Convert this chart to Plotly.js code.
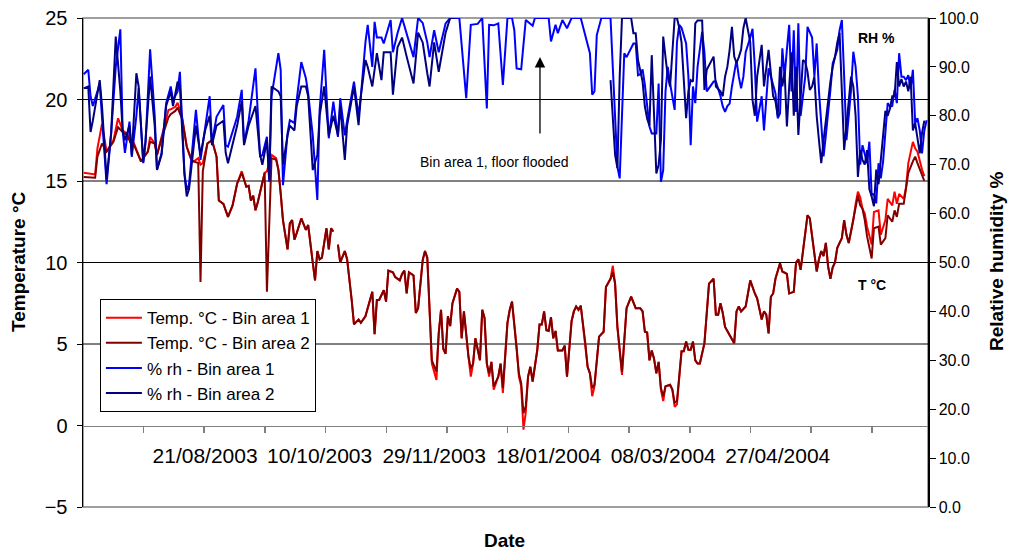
<!DOCTYPE html>
<html>
<head>
<meta charset="utf-8">
<script src="https://cdn.plot.ly/plotly-3.0.1.min.js"></script>
<style>
html,body{margin:0;padding:0;background:#fff;}
#chart{width:1010px;height:552px;}
</style>
</head>
<body>
<div id="chart"></div>
<script>
// ---- DATA ----
// Days counted from the first reading (29/06/2003)
const startDate = '2003-06-29';

const tempDay = [0,5,6,8,10,13,15,17,19,21,22,25,28,29,31,32,34,37,38,40,41,43,45,47,48,50,51,52,54,56,58,59,61,63,65,67,69,71,72,73,74,75,76,78,79,80,82,84,85,86,87,89,90,91,92,93,95,97,98,100,101,102,103,104,106,107,108,109,110,111,112,114,115,117,118,120,121,123,124,126,127,128,129,131,132,133,135,136,138,139,140,141,142,144,145,146,148,149,150,151,152,154,155,156,157,158,159,160,161,163,164,165,166,168,169,170,171,173,174,175,176,177,178,179,181,182,183,185,186,187,189,190,191,192,193,194,195,196,198,199,200,201,202,203,204,205,206,207,209,210,211,213,214,215,216,217,219,220,221,222,223,224,225,227,228,230,231,232,233,235,236,237,239,241,242,243,244,245,246,247,248,249,250,251,252,253,254,256,257,258,259,260,261,262,263,264,265,266,267,268,269,271,272,273,275,276,277,278,279,280,281,282,284,285,286,287,289,290,291,293,294,296,297,298,299,300,301,302,304,305,307,308,310,311,312,313,315,316,317,318,320,321,322,323,324,325,326,327,328,329,331,332,333,334,336,337,338,339,340,341,342,344,345,347,348,350,351,353,354,355,356,358,359,360,362,363,364,366,367];

const tempArea1 = [15.5,15.4,17,18.5,16.8,17.5,18.85,18.1,17.9,17.2,17.3,16.2,16.8,17.7,17.3,16.6,17.7,19.35,19.4,19.55,19.8,18.9,17.1,16.3,16.2,16.4,16.0,16.1,17.3,17.5,16.5,13.8,13.6,12.8,13.5,14.85,15.6,14.65,14.7,13.8,14.1,13.2,13.7,14.85,15.5,15.6,16.6,16.4,15.7,14.25,12.6,10.8,12.4,12.6,11.4,11.8,12.7,12.0,12.3,10.0,8.9,10.7,10.2,10.3,12.1,10.8,12.1,11.9,null,11.1,10.0,10.7,10.2,7.7,6.2,6.5,6.3,6.7,7.2,8.2,5.6,7.7,7.7,8.3,7.6,9.5,9.4,9.1,8.9,9.3,9.5,8.1,9.4,9.2,6.9,7.2,10.15,10.7,10.3,6.9,3.8,2.8,5.65,7.1,4.7,4.4,6.7,6.1,7.5,8.4,8.2,5.35,7.0,4.2,3.0,3.8,5.35,4.0,7.1,6.6,3.8,3.0,3.9,2.2,3.0,3.8,2.0,6.3,7.1,7.6,4.85,3.0,2.4,-0.25,0.8,3.0,3.6,2.7,4.6,6.2,6.2,7.0,5.85,5.8,6.65,5.35,5.8,4.6,4.6,4.9,3.0,6.4,7.0,7.3,7.1,7.35,5.05,3.6,3.2,1.8,2.4,3.8,5.45,5.75,8.5,9.0,9.8,8.7,6.05,3.1,5.45,7.2,7.9,7.2,7.2,7.2,7.0,5.75,5.7,4.0,4.6,4.1,3.2,3.9,2.2,1.5,2.4,2.5,2.2,1.15,1.3,3.0,4.55,4.55,5.15,4.65,4.65,5.15,4.0,3.8,3.8,5.05,7.1,8.7,9.0,6.8,6.8,7.5,6.9,6.05,5.8,5.55,5.05,7.0,7.3,7.0,7.3,8.1,8.9,8.1,7.8,6.5,7.0,6.8,5.65,7.9,8.1,9.0,9.95,9.45,9.3,8.1,8.2,10.0,10.2,9.55,11.9,12.9,12.7,11.7,9.45,10.2,10.7,10.4,11.2,9.75,9.0,9.7,10.0,10.9,11.5,12.6,11.7,11.2,12.6,13.6,14.35,14.0,13.3,13.0,12.2,11.1,13.1,13.2,11.7,12.6,13.9,13.5,14.35,13.6,14.2,13.9,14.6,16.1,17.4,17.0,16.8,15.7,15.3];

const tempArea2 = [15.25,15.2,16.5,17.3,16.8,17.4,18.3,18.0,17.8,17.2,17.2,16.2,16.8,17.4,17.3,16.6,17.6,18.9,19.1,19.3,19.5,18.8,17.1,16.3,16.2,16.1,8.8,15.6,17.3,17.5,16.5,13.8,13.6,12.8,13.5,14.85,15.5,14.65,14.7,13.8,14.1,13.2,13.7,14.85,15.5,8.2,16.4,16.3,15.7,14.25,12.6,10.8,12.4,12.6,11.4,11.8,12.7,12.0,12.3,10.0,8.9,10.7,10.2,10.3,12.1,10.8,12.1,11.9,null,11.1,10.0,10.7,10.2,7.7,6.2,6.5,6.3,6.7,7.2,8.2,5.6,7.7,7.7,8.3,7.6,9.5,9.4,9.1,8.9,9.3,9.5,8.1,9.4,9.2,6.9,7.2,10.15,10.7,10.3,6.9,4.0,3.3,5.65,7.1,4.7,4.4,6.7,6.1,7.5,8.4,8.2,5.35,7.0,4.2,3.5,3.8,5.35,4.0,7.1,6.6,3.8,3.2,3.9,2.4,3.0,3.8,2.3,6.3,7.1,7.6,4.85,3.2,2.6,0.75,1.2,3.0,3.6,2.7,4.6,6.2,6.2,7.0,5.85,5.8,6.65,5.35,5.8,4.6,4.6,4.9,3.0,6.4,7.0,7.3,7.1,7.35,5.05,3.6,3.2,2.3,2.5,3.8,5.45,5.75,8.5,9.0,9.4,8.7,6.05,3.3,5.45,7.2,7.9,7.2,7.2,7.2,7.0,5.75,5.7,4.0,4.6,4.1,3.2,3.9,2.3,1.8,2.4,2.5,2.2,1.4,1.5,3.0,4.55,4.55,5.15,4.65,4.65,5.15,4.0,3.8,3.8,5.05,7.1,8.7,9.0,6.8,6.8,7.5,6.9,6.05,5.8,5.55,5.05,7.0,7.3,7.0,7.3,8.1,8.9,8.1,7.8,6.5,7.0,6.8,5.65,7.9,8.1,9.0,9.95,9.45,9.3,8.1,8.2,10.0,10.2,9.55,11.9,12.9,12.7,11.7,9.45,10.2,10.7,10.4,11.2,9.75,9.0,9.7,10.0,10.9,11.5,12.6,11.7,11.2,12.6,13.2,14.1,13.5,13.3,12.6,11.6,10.25,12.1,12.2,11.1,11.5,12.9,12.5,13.2,12.8,13.6,13.6,14.45,15.5,16.2,16.5,16.1,15.3,15.0];

const rhDay = [0,2,3,4,7,8,10,12,14,16,17,18,20,21,23,24,26,27,29,31,32,34,36,38,39,41,42,44,45,46,49,51,53,55,56,58,61,62,63,67,69,70,72,75,77,78,80,81,82,85,86,87,89,90,92,93,95,97,98,100,102,103,105,107,109,111,112,114,115,118,120,121,123,124,126,127,128,130,131,134,135,137,139,141,144,146,148,150,151,153,155,158,160,162,164,167,169,172,174,176,177,179,181,183,185,187,188,189,191,193,196,197,203,204,206,207,209,211,213,217,219,220,221,222,223,224,226,230,232,233,234,235,236,237,238,239,240,241,242,243,244,245,246,247,248,250,251,252,253,254,255,256,258,259,260,261,263,264,265,266,267,268,270,271,272,275,276,278,279,280,281,282,283,284,285,286,287,288,289,291,292,293,294,296,297,299,301,302,303,304,305,306,307,308,309,310,311,312,313,314,315,316,317,318,319,320,321,322,323,324,325,326,327,328,329,330,331,332,333,334,335,336,337,338,339,340,341,342,343,344,345,346,347,348,349,350,351,352,353,354,355,356,357,358,359,360,361,362,363,364,365,366,367,368];

const rhArea1 = [88.5,89.4,84,82,86.5,80,66,76.5,90,97.7,77,72.4,78.8,71.6,80,85.6,70.3,74.4,93.6,80,68.9,72.4,82.6,86,83.2,85,89,68.2,64.8,66,81.2,71,77.8,84,74.4,79.8,82.2,74,73.7,79.8,85.3,74.4,79,89.7,71.6,72,75.7,66.5,84,92.8,89.4,65.8,76.4,79.1,78.5,83.2,91,87.7,84.6,76,62.8,81.2,93.5,75.4,82.9,75.7,83.6,76,79,87,80,84,95,98.6,90,99.2,96,96,94.8,99.6,93,96.9,100,97,92,100,99,95,92,97.5,93,98.9,100,100,100,83.6,98.6,98.8,100,81.5,98.6,98.5,98.9,86.3,100,100,97.5,89.7,89.5,99.6,98.4,100,100,95.2,98.6,96.9,99.6,97.9,100,100,96.5,95,92.8,84.3,85,96.5,100,100,81.2,69.6,67.2,80,92.8,92,93,94,94.8,94.8,88.3,88.5,89.5,86.3,82,77.8,76.4,76.4,86.6,66.5,68.9,85,90,86.6,81.2,95,98.6,98,94.8,88,74,86,82.6,90,97.2,93,85,87,87,84,81.9,80.8,82,82.5,86,89,91.4,88,85.6,88,93,96,97.8,90,78.8,84,77,89.7,86,84.6,79.5,80.5,93.8,88,93.6,98.6,85,97.5,80.8,98.9,80,84,88,98.2,97,96,88,94.8,85,77.8,71.7,76,80,85.3,90.7,92,93.5,97.5,99.6,88,75,80,85.3,93.1,90,84,70,74,72,70.3,74.7,63.8,64,62.1,70.3,67.2,70.7,77,82.6,81.9,82,85.3,82.6,92.8,88,88,87.3,88.3,85.5,89.4,78.5,79.5,77,72.3,77,79.1];

const rhArea2 = [85.6,86,76.7,79,87.3,82,67,76.5,96.2,85,77,75,78,72,88.7,86,70.5,75,88,78,69,72,82,85,82,87,86,68,63.5,65,78,72,77,80,74,78,79,72.4,70.3,78,83,74,78,82,72,70,75,67,86,85,84,70,76,78,77,82,86,86,84,68.9,72,80,86,76,80,76,82,71,78,86,78.1,84,91.4,90,86,90,92.8,87.3,93,93,84.3,94,96,92.1,86.6,97,95,88.7,86,95,89,97,100,100,null,null,null,null,null,null,null,null,null,null,null,null,null,null,null,null,null,null,null,null,null,null,null,null,null,null,null,null,null,null,null,null,null,87.3,72,69.3,88,100,100,100,100,100,96.9,96.9,91.4,89,87,81.9,79.4,78,92.4,68.2,70,75,96.2,92,88,86,100,100,98,95,79.5,85,87.3,87,98.9,99.5,99.5,85.3,89.4,92.1,86,85,84,88,90,93.5,98.2,92.1,90.8,92,93.5,97.9,100,95,83.2,80,88,94.5,86,93.5,84,83,80,90,86,89,77.8,86,93,80,90,76.1,85,91.4,91,89,85.3,86,88,80,75,70.3,75,79,84,87,90,92,95,97,85,73,78,83,88,86,80,67.5,73,71,70,73,65,63.5,61.5,69,66,71,76,81,80,81.5,84,84,91,86,87.5,86,87,85,88,77,78.5,75,72.3,76.5,79];

const xTickLabels = ['21/08/2003','10/10/2003','29/11/2003','18/01/2004','08/03/2004','27/04/2004'];
const tempGridValues = [5, 10, 15, 20];

// ---- HELPERS ----
const DAY = 864e5;
const t0 = Date.parse(startDate + 'T00:00:00Z');
function dayToDate(d) {
  return new Date(t0 + d * DAY).toISOString().replace('T', ' ').slice(0, 19);
}
function labelToDate(s) {
  const p = s.split('/');
  return p[2] + '-' + p[1] + '-' + p[0];
}

const FONT = 'Liberation Sans, Arial, sans-serif';
const tempX = tempDay.map(dayToDate);
const rhX = rhDay.map(dayToDate);

const traces = [
  {x: tempX, y: tempArea1, name: 'Temp. °C - Bin area 1', type: 'scatter', mode: 'lines',
   line: {color: '#FF0000', width: 2}, yaxis: 'y'},
  {x: tempX, y: tempArea2, name: 'Temp. °C - Bin area 2', type: 'scatter', mode: 'lines',
   line: {color: '#800000', width: 2}, yaxis: 'y'},
  {x: rhX, y: rhArea1, name: '% rh - Bin area 1', type: 'scatter', mode: 'lines',
   line: {color: '#0000FF', width: 2}, yaxis: 'y2'},
  {x: rhX, y: rhArea2, name: '% rh - Bin area 2', type: 'scatter', mode: 'lines',
   line: {color: '#000080', width: 2}, yaxis: 'y2'}
];

const yMin = -5, yMax = 25;
const shapes = [
  {type: 'rect', xref: 'paper', yref: 'paper', x0: 0, x1: 1, y0: 0, y1: 1,
   line: {color: '#808080', width: 1.5}, layer: 'below'}
].concat(tempGridValues.map(v => ({
  type: 'line', xref: 'paper', yref: 'y', x0: 0, x1: 1, y0: v, y1: v,
  line: {color: '#000000', width: 1}, layer: 'below'
})));

function note(text, x, y, size, extra) {
  return Object.assign({text: text, xref: 'paper', yref: 'paper', x: x, y: y,
    xanchor: 'center', yanchor: 'middle', showarrow: false,
    font: {family: FONT, size: size, color: '#000'}}, extra || {});
}

const layout = {
  width: 1010, height: 552,
  margin: {l: 83, r: 82, t: 18, b: 45, pad: 0},
  paper_bgcolor: '#ffffff', plot_bgcolor: '#ffffff',
  font: {family: FONT, color: '#000'},
  showlegend: true,
  legend: {x: 0.02, y: 0.425, xanchor: 'left', yanchor: 'top',
    bgcolor: '#ffffff', bordercolor: '#000000', borderwidth: 1, itemwidth: 36,
    font: {family: FONT, size: 17, color: '#000'}, tracegroupgap: 0},
  xaxis: {
    type: 'date',
    range: [dayToDate(-0.3), dayToDate(368.6)],
    anchor: 'free', position: (0 - yMin) / (yMax - yMin),
    showline: true, linecolor: '#808080', linewidth: 1.5,
    showgrid: false, zeroline: false,
    tickmode: 'array', tickvals: xTickLabels.map(labelToDate), ticktext: xTickLabels,
    ticks: '', ticklabelstandoff: 11,
    tickfont: {family: FONT, size: 21, color: '#000'},
    minor: {tickmode: 'linear', tick0: dayToDate(-0.4), dtick: 26.5 * DAY,
      ticks: 'outside', ticklen: 6, tickcolor: '#808080', tickwidth: 1.5, showgrid: false}
  },
  yaxis: {
    range: [yMin, yMax], dtick: 5, tick0: 0,
    showgrid: false, zeroline: false,
    showline: true, linecolor: '#000', linewidth: 1.5,
    ticks: 'outside', ticklen: 5, tickcolor: '#000', ticklabelstandoff: 5,
    tickfont: {family: FONT, size: 20, color: '#000'}
  },
  yaxis2: {
    overlaying: 'y', side: 'right', range: [0, 100], dtick: 10, tick0: 0,
    tickformat: '.1f', showgrid: false, zeroline: false,
    showline: true, linecolor: '#000', linewidth: 1.5,
    ticks: 'outside', ticklen: 6, tickcolor: '#000',
    tickfont: {family: FONT, size: 16, color: '#000'}
  },
  shapes: shapes,
  annotations: [
    note('<b>Date</b>', 0.4994, -0.0695, 19),
    note('<b>Temperature °C</b>', -0.0769, 0.501, 19, {textangle: -90}),
    note('<b>Relative humidity %</b>', 1.0805, 0.503, 19, {textangle: -90}),
    note('Bin area 1, floor flooded', 0.4864, 0.7055, 14),
    {text: '', xref: 'paper', yref: 'paper', x: 0.5408, y: 0.920,
     showarrow: true, ax: 0, ay: 78, arrowhead: 2, arrowsize: 1.6, arrowwidth: 1.3, arrowcolor: '#000'},
    note('<b>RH %</b>', 0.9396, 0.959, 14),
    note('<b>T °C</b>', 0.9337, 0.454, 14)
  ]
};

Plotly.newPlot('chart', traces, layout, {displayModeBar: false, staticPlot: true});
</script>
</body>
</html>
